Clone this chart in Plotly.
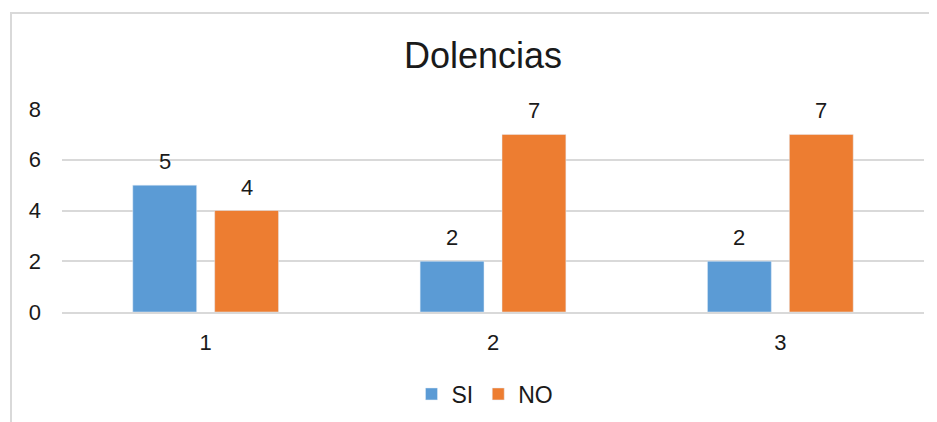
import plotly.graph_objects as go

# ── data ──
categories = ["1", "2", "3"]
si_values = [5, 2, 2]
no_values = [4, 7, 7]

SI_COLOR = "#5B9BD5"
NO_COLOR = "#ED7D31"
TEXT_COLOR = "#1a1a1a"
GRID_COLOR = "#D9D9D9"
FONT = "Liberation Sans, Arial, sans-serif"

# page body has an 8px margin, so the figure is sized/placed to compensate
W, H = 929, 414
L, T, PW, PH = 54, 101, 862, 203

fig = go.Figure()
fig.add_trace(go.Bar(name="SI", x=categories, y=si_values, marker_color=SI_COLOR))
fig.add_trace(go.Bar(name="NO", x=categories, y=no_values, marker_color=NO_COLOR))

# data labels above each bar, offset to the bar's slot in the group
# (category axis -> annotation x is the category index)
annotations = []
for vals, shift in ((si_values, -41), (no_values, 41)):
    for i, v in enumerate(vals):
        annotations.append(dict(
            x=i, y=v, xref="x", yref="y", text=str(v), showarrow=False,
            xshift=shift, yshift=9, yanchor="bottom",
            font=dict(size=22, color=TEXT_COLOR),
        ))

fig.update_layout(
    width=W, height=H,
    margin=dict(l=L, r=W - L - PW, t=T, b=H - T - PH, autoexpand=False),
    paper_bgcolor="white", plot_bgcolor="white",
    font=dict(family=FONT, color=TEXT_COLOR, size=22),
    title=dict(
        text="Dolencias", x=(L + PW / 2 - 10) / W, xanchor="center",
        y=1 - 47 / H, yanchor="middle",
        font=dict(size=36, color=TEXT_COLOR),
    ),
    barmode="group", bargap=0.43, bargroupgap=0.22,
    showlegend=True,
    legend=dict(
        orientation="h", x=0.5 - 8 / PW, xanchor="center",
        y=-(386 - T - PH) / PH, yanchor="middle",
        font=dict(size=23), itemwidth=30,
        bgcolor="rgba(0,0,0,0)",
    ),
    annotations=annotations,
    xaxis=dict(
        showgrid=False, showline=True, linecolor=GRID_COLOR, linewidth=2,
        ticks="", ticklabelstandoff=10, automargin=False,
        tickfont=dict(size=22),
    ),
    yaxis=dict(
        range=[0, 8], dtick=2, showgrid=True, gridcolor=GRID_COLOR,
        gridwidth=2, zeroline=False, showline=False, ticks="",
        ticklabelstandoff=20, automargin=False, tickfont=dict(size=22),
    ),
    shapes=[dict(
        type="rect", xref="paper", yref="paper",
        x0=(3 - L) / PW, x1=1.1, y0=-0.7, y1=(T + PH - 5) / PH,
        line=dict(color=GRID_COLOR, width=2), fillcolor="rgba(0,0,0,0)",
        layer="below",
    )],
)

fig.write_html("out.html")
